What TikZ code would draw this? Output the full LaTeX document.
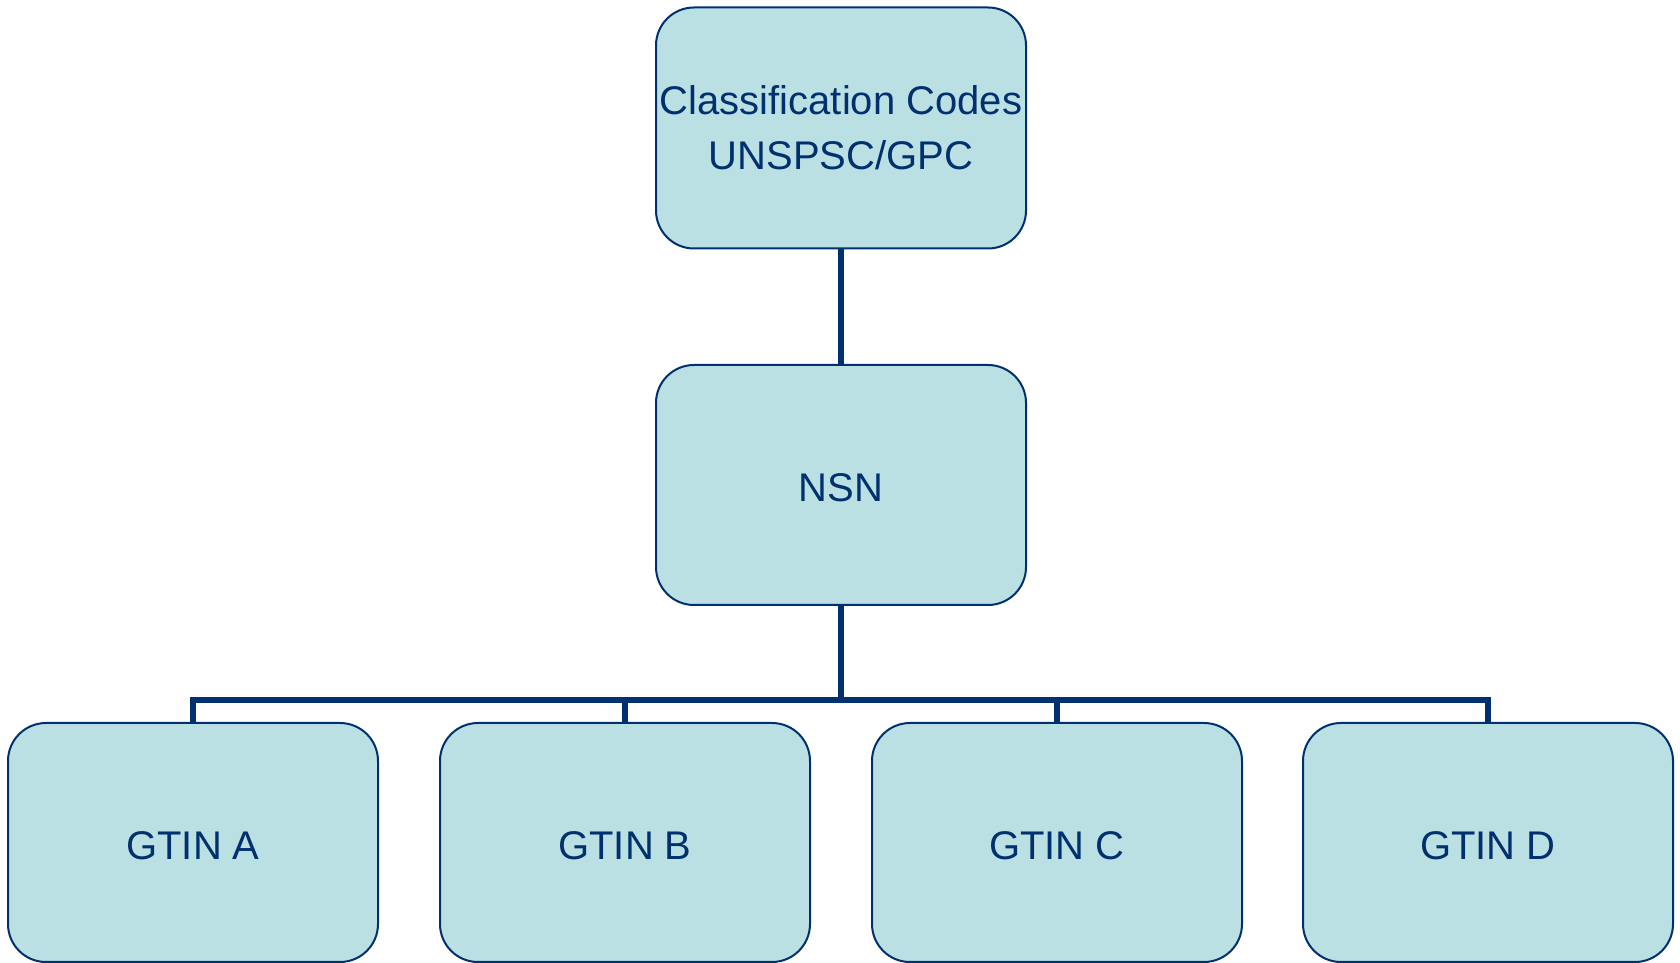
\documentclass[tikz,border=0pt]{standalone}
\usepackage{fontspec}
\setmainfont{Liberation Sans}
\definecolor{boxfill}{RGB}{186,224,227}
\definecolor{navy}{RGB}{0,48,110}
\begin{document}
\begin{tikzpicture}[x=1pt,y=1pt,
  orgbox/.style={draw=navy, line width=2pt, fill=boxfill, rounded corners=38pt,
    minimum width=370pt, inner sep=0pt, align=center, text=navy,
    font=\fontsize{40}{55}\selectfont},
  oneline/.style={text height=34pt, text depth=0pt},
  link/.style={draw=navy, line width=6pt}]
\useasboundingbox (0,0) rectangle (1680,963);
\node[orgbox, minimum height=241pt] (top) at (841,835) {Classification Codes\\UNSPSC/GPC};
\node[orgbox, oneline, minimum height=240pt] (nsn) at (841,478) {NSN};
\node[orgbox, oneline, minimum height=239pt] (ga) at (193,120.5) {GTIN A};
\node[orgbox, oneline, minimum height=239pt] (gb) at (625,120.5) {GTIN B};
\node[orgbox, oneline, minimum height=239pt] (gc) at (1057,120.5) {GTIN C};
\node[orgbox, oneline, minimum height=239pt] (gd) at (1488,120.5) {GTIN D};
\coordinate (bar) at (841,263);
\draw[link] (top.south) -- (nsn.north);
\draw[link] (nsn.south) -- (bar);
\draw[link] (ga.north) -- (ga.north |- bar) -- (gd.north |- bar) -- (gd.north);
\draw[link] (gb.north) -- (gb.north |- bar);
\draw[link] (gc.north) -- (gc.north |- bar);
\end{tikzpicture}
\end{document}
